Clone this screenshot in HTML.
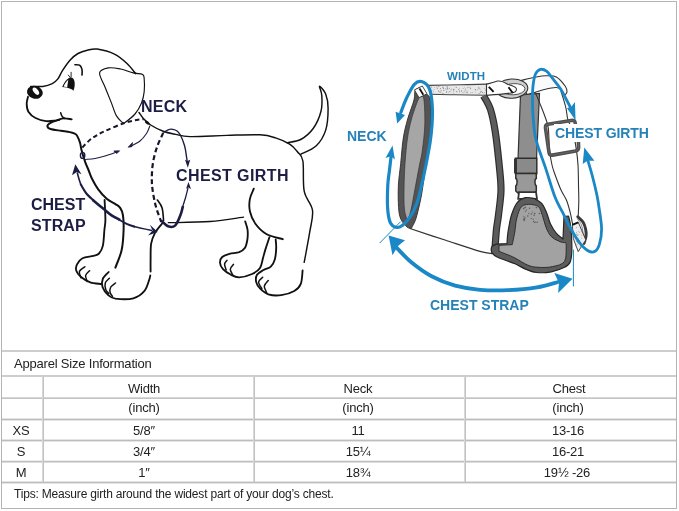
<!DOCTYPE html><html><head><meta charset="utf-8"><style>
html,body{margin:0;padding:0;background:#fff;}
body{width:679px;height:511px;position:relative;overflow:hidden;font-family:"Liberation Sans",sans-serif;}
.h{position:absolute;height:2px;background:#cfcfcf;}
.v{position:absolute;width:2px;background:#cfcfcf;}
.t{position:absolute;color:#222;white-space:pre;line-height:1;}
.c{position:absolute;color:#222;white-space:pre;line-height:1;transform:translateX(-50%);}
.lb{position:absolute;white-space:pre;line-height:1;font-weight:bold;}
svg{position:absolute;left:0;top:0;}
.t,.c,.lb{will-change:transform}
</style></head><body>
<div style="position:absolute;left:1px;top:1px;width:674px;height:506px;border:1px solid #b4b4b4;"></div>
<div class="h" style="left:2px;width:674px;top:350px;height:2px;background:#cdcdcd"></div>
<div class="h" style="left:2px;width:674px;top:375px;height:2px;background:#cdcdcd"></div>
<div class="h" style="left:2px;width:674px;top:397px;height:2px;background:linear-gradient(#d6d6d6 50%,#c4c4c4 50%)"></div>
<div class="h" style="left:2px;width:674px;top:418px;height:3px;background:linear-gradient(#e4e4e4 33.3%,#bdbdbd 33.3% 66.6%,#e4e4e4 66.6%)"></div>
<div class="h" style="left:2px;width:674px;top:439px;height:3px;background:linear-gradient(#e4e4e4 33.3%,#bdbdbd 33.3% 66.6%,#e4e4e4 66.6%)"></div>
<div class="h" style="left:2px;width:674px;top:481px;height:3px;background:linear-gradient(#e4e4e4 33.3%,#bdbdbd 33.3% 66.6%,#e4e4e4 66.6%)"></div>
<div class="h" style="left:2px;width:674px;top:460px;height:3px;background:linear-gradient(#ececec 33.3%,#bfbfbf 33.3% 66.6%,#dddddd 66.6%)"></div>
<div class="v" style="left:42px;top:377px;height:105px;background:linear-gradient(90deg,#d8d8d8 50%,#c2c2c2 50%)"></div>
<div class="v" style="left:253px;top:377px;height:105px;background:linear-gradient(90deg,#d8d8d8 50%,#c2c2c2 50%)"></div>
<div class="v" style="left:464px;top:377px;height:105px;background:linear-gradient(90deg,#d8d8d8 50%,#c2c2c2 50%)"></div>
<div class="t" style="left:14px;top:356.8px;font-size:13px;letter-spacing:-0.2px">Apparel Size Information</div>
<div class="c" style="left:143.5px;top:382.2px;font-size:13px;letter-spacing:-0.2px">Width</div>
<div class="c" style="left:358px;top:382.2px;font-size:13px;letter-spacing:-0.2px">Neck</div>
<div class="c" style="left:569px;top:382.2px;font-size:13px;letter-spacing:-0.2px">Chest</div>
<div class="c" style="left:144px;top:401.0px;font-size:13px;letter-spacing:-0.2px">(inch)</div>
<div class="c" style="left:358px;top:401.0px;font-size:13px;letter-spacing:-0.2px">(inch)</div>
<div class="c" style="left:567.8px;top:401.0px;font-size:13px;letter-spacing:-0.2px">(inch)</div>
<div class="c" style="left:21px;top:423.8px;font-size:13px;letter-spacing:-0.2px">XS</div>
<div class="c" style="left:144px;top:423.8px;font-size:13px;letter-spacing:-0.2px">5/8″</div>
<div class="c" style="left:357.8px;top:423.8px;font-size:13px;letter-spacing:-0.2px">11</div>
<div class="c" style="left:567.8px;top:423.8px;font-size:13px;letter-spacing:-0.2px">13-16</div>
<div class="c" style="left:21px;top:444.5px;font-size:13px;letter-spacing:-0.2px">S</div>
<div class="c" style="left:144px;top:444.5px;font-size:13px;letter-spacing:-0.2px">3/4″</div>
<div class="c" style="left:357.8px;top:444.5px;font-size:13px;letter-spacing:-0.2px">15¼</div>
<div class="c" style="left:567.8px;top:444.5px;font-size:13px;letter-spacing:-0.2px">16-21</div>
<div class="c" style="left:21px;top:466.0px;font-size:13px;letter-spacing:-0.2px">M</div>
<div class="c" style="left:144px;top:466.0px;font-size:13px;letter-spacing:-0.2px">1″</div>
<div class="c" style="left:357.8px;top:466.0px;font-size:13px;letter-spacing:-0.2px">18¾</div>
<div class="c" style="left:566.5px;top:466.0px;font-size:13px;letter-spacing:-0.2px">19½ -26</div>
<div class="t" style="left:13.8px;top:488.4px;font-size:12px;letter-spacing:-0.19px">Tips: Measure girth around the widest part of your dog’s chest.</div>
<svg width="679" height="511" viewBox="0 0 679 511">
<path d="M30.6,86.4 C32.6,86.4 39.3,86.9 42.9,86.4 C46.5,85.9 49.8,84.8 52.3,83.6 C54.8,82.3 56.2,81.1 57.9,78.9 C59.6,76.7 60.5,73.6 62.6,70.4 C64.7,67.2 67.6,62.8 70.2,60.0 C72.8,57.2 75.2,55.1 78.0,53.5 C80.8,51.9 84.1,50.9 87.3,50.2 C90.5,49.5 92.7,48.5 97.2,49.1 C101.7,49.8 109.4,51.7 114.4,54.1 C119.4,56.5 123.5,60.2 127.0,63.5 C130.5,66.8 134.2,71.9 135.6,73.6" fill="none" stroke="#111" stroke-width="1.5" stroke-linecap="round" stroke-linejoin="round" />
<ellipse cx="34.9" cy="92.3" rx="8" ry="6.4" transform="rotate(15 34.9 92.3)" fill="#111"/>
<ellipse cx="35.9" cy="91.2" rx="4.3" ry="2.3" transform="rotate(52 35.9 91.2)" fill="#fff"/>
<path d="M28.0,96.8 C27.8,98.0 26.6,101.3 26.7,103.8 C26.8,106.3 26.9,109.4 28.4,111.8 C29.9,114.2 32.5,116.5 35.5,118.0 C38.5,119.5 42.9,120.7 46.1,121.1 C49.3,121.5 52.0,121.0 54.9,120.6 C57.8,120.1 61.0,118.6 63.8,118.4 C66.6,118.2 70.4,119.2 71.7,119.3" fill="none" stroke="#111" stroke-width="1.85" stroke-linecap="round" stroke-linejoin="round" />
<path d="M60.7,112.7 C60.9,113.3 61.4,115.2 62.0,116.2 C62.6,117.2 64.2,118.0 64.6,118.4" fill="none" stroke="#111" stroke-width="1.5" stroke-linecap="round" stroke-linejoin="round" />
<path d="M59.3,119.7 C57.8,120.2 52.5,121.8 50.5,122.8 C48.5,123.8 47.4,124.9 47.4,125.9 C47.4,126.9 48.2,128.2 50.5,129.0 C52.8,129.8 57.9,130.3 61.1,130.8 C64.3,131.3 67.4,131.5 69.9,132.1 C72.4,132.7 74.3,132.7 76.0,134.4 C77.7,136.1 79.0,139.7 79.9,142.3 C80.8,144.9 80.6,146.6 81.5,150.0 C82.4,153.4 84.2,159.3 85.4,162.6 C86.6,165.9 87.4,167.3 88.5,170.0 C89.6,172.7 90.4,175.6 92.0,178.8 C93.6,182.0 95.7,186.0 98.2,189.4 C100.7,192.8 104.1,196.5 107.0,199.0 C109.9,201.5 113.6,202.8 115.8,204.3 C118.0,205.8 119.0,206.1 120.2,207.9 C121.4,209.7 122.3,211.3 122.9,215.0 C123.5,218.7 123.8,224.1 123.6,230.0 C123.4,235.9 123.0,244.0 121.6,250.3 C120.2,256.6 116.4,264.7 115.4,267.6" fill="none" stroke="#111" stroke-width="2.0" stroke-linecap="round" stroke-linejoin="round" />
<path d="M62.2,86.9 C64,83 66,79.5 69,78 C71.5,76.8 74,78 74.6,82 C75,85 74.5,88 73.5,90.8 C72.5,89.5 70,88.5 66.5,87.6 Z" fill="#111"/>
<path d="M63.6,86.4 C65,83.5 66.5,81 68.3,79.8 C67.8,82.5 67.5,85 67.2,87.2 Z" fill="#fff"/>
<path d="M68.3,75.1 L70.2,77.4" fill="none" stroke="#111" stroke-width="0.9" stroke-linecap="round" stroke-linejoin="round" />
<path d="M71.1,72.3 L71.1,77.0" fill="none" stroke="#111" stroke-width="0.9" stroke-linecap="round" stroke-linejoin="round" />
<path d="M74.9,64.7 C75.7,64.8 78.4,64.4 79.6,65.2 C80.8,66.0 81.6,67.8 82.0,69.4 C82.4,71.1 82.0,74.1 82.0,75.1" fill="none" stroke="#111" stroke-width="1.6" stroke-linecap="round" stroke-linejoin="round" />
<path d="M122.5,122.7 C121.5,121.5 118.2,118.9 116.3,115.6 C114.4,112.2 113.2,107.4 111.3,102.6 C109.4,97.8 107.0,92.0 105.0,87.0 C103.0,82.0 99.1,76.1 99.6,72.9 C100.1,69.7 104.7,68.6 108.2,67.9 C111.7,67.2 116.5,68.2 120.7,69.0 C124.9,69.8 129.5,72.0 133.2,72.9 C136.8,73.8 140.8,73.4 142.6,74.4 C144.4,75.4 143.9,76.2 144.2,79.1 C144.5,82.0 144.6,87.6 144.2,91.6 C143.8,95.6 143.0,99.3 141.5,103.0 C140.0,106.7 137.8,110.8 135.0,114.0 C132.2,117.2 127.1,121.0 125.0,122.5 C122.9,124.0 122.9,122.7 122.5,122.7" fill="none" stroke="#111" stroke-width="1.15" stroke-linecap="round" stroke-linejoin="round" />
<path d="M139.0,112.5 C139.8,113.5 141.7,116.7 143.6,118.8 C145.5,120.9 147.4,122.9 150.7,125.0 C154.0,127.1 159.0,129.7 163.2,131.3 C167.4,132.9 171.2,133.5 175.7,134.4 C180.2,135.3 181.4,136.4 190.0,136.6 C198.6,136.8 215.3,135.7 227.0,135.4 C238.7,135.1 251.9,134.4 260.0,134.8 C268.1,135.2 270.7,136.3 275.6,137.9 C280.6,139.5 286.0,141.8 289.7,144.2 C293.4,146.5 295.4,149.2 297.6,152.0 C299.8,154.8 301.8,154.5 302.9,161.0 C304.0,167.5 302.6,182.9 304.2,191.1 C305.8,199.3 311.6,203.5 312.5,210.3 C313.4,217.2 311.1,223.5 309.7,232.2 C308.3,240.9 305.1,257.3 304.2,262.3" fill="none" stroke="#111" stroke-width="1.45" stroke-linecap="round" stroke-linejoin="round" />
<path d="M287.4,142.6 C289.6,142.1 296.4,141.8 300.7,139.5 C305.0,137.2 309.8,133.2 313.2,128.5 C316.6,123.8 319.6,116.8 321.0,111.3 C322.4,105.8 322.1,99.8 321.8,95.6 C321.6,91.4 318.9,86.5 319.5,86.3 C320.1,86.0 324.3,90.4 325.7,94.1 C327.1,97.8 328.1,102.2 328.1,108.2 C328.1,114.2 327.7,123.8 325.7,130.1 C323.7,136.3 320.5,141.7 316.3,145.7 C312.1,149.7 303.3,152.9 300.7,154.3" fill="none" stroke="#111" stroke-width="1.45" stroke-linecap="round" stroke-linejoin="round" />
<path d="M302.6,270.5 C302.3,272.7 302.2,280.4 300.8,283.8 C299.4,287.2 297.6,289.1 294.3,291.0 C291.1,292.9 285.6,294.6 281.3,295.1 C277.0,295.7 271.8,295.4 268.3,294.3 C264.8,293.2 262.2,290.6 260.2,288.6 C258.2,286.6 256.7,284.4 256.2,282.1 C255.7,279.8 255.8,276.8 257.0,274.8 C258.2,272.8 261.2,271.4 263.5,270.0 C265.8,268.6 268.9,268.5 270.8,266.7 C272.7,264.9 273.9,262.5 274.8,259.4 C275.7,256.3 276.1,251.3 276.2,248.0 C276.3,244.7 275.8,240.9 275.7,239.5" fill="none" stroke="#111" stroke-width="1.85" stroke-linecap="round" stroke-linejoin="round" />
<path d="M262.7,277.3 C262.0,278.1 258.7,280.2 258.6,282.1 C258.5,284.0 261.3,287.5 261.9,288.6" fill="none" stroke="#111" stroke-width="1.5" stroke-linecap="round" stroke-linejoin="round" />
<path d="M268.3,280.5 C267.6,281.4 264.6,284.2 264.3,286.2 C264.0,288.2 266.3,291.6 266.7,292.7" fill="none" stroke="#111" stroke-width="1.5" stroke-linecap="round" stroke-linejoin="round" />
<path d="M253.8,188.6 C253.2,190.3 250.6,195.0 249.9,198.8 C249.2,202.6 249.0,207.1 249.9,211.3 C250.8,215.5 252.7,220.0 255.4,223.8 C258.1,227.6 261.7,231.4 266.3,234.0 C270.9,236.6 280.1,238.3 282.8,239.2" fill="none" stroke="#111" stroke-width="1.85" stroke-linecap="round" stroke-linejoin="round" />
<path d="M168.3,222.7 C175.2,222.5 197.4,222.4 210.0,221.5 C222.6,220.6 238.0,217.9 243.6,217.2" fill="none" stroke="#111" stroke-width="1.3" stroke-linecap="round" stroke-linejoin="round" />
<path d="M245.2,221.5 C245.6,222.9 247.2,226.9 247.6,230.0 C247.9,233.1 247.8,237.0 247.3,240.0 C246.8,243.0 246.2,246.1 244.8,248.1 C243.5,250.1 241.8,251.2 239.2,252.2 C236.6,253.1 232.2,253.0 229.4,253.8 C226.6,254.6 223.8,255.5 222.2,257.0 C220.6,258.5 219.9,260.7 220.0,262.7 C220.1,264.7 221.2,267.2 223.0,269.2 C224.8,271.2 228.3,273.4 231.0,274.8 C233.7,276.2 235.7,277.4 239.2,277.3 C242.7,277.2 248.6,275.6 252.1,274.0 C255.6,272.4 258.2,270.7 260.0,268.0 C261.8,265.3 262.1,261.2 263.0,258.0 C263.9,254.8 264.5,252.4 265.6,248.9 C266.7,245.4 268.9,239.1 269.5,237.1" fill="none" stroke="#111" stroke-width="1.85" stroke-linecap="round" stroke-linejoin="round" />
<path d="M227.0,260.3 C226.6,261.0 224.7,262.7 224.6,264.3 C224.5,265.9 225.9,269.1 226.2,270.0" fill="none" stroke="#111" stroke-width="1.5" stroke-linecap="round" stroke-linejoin="round" />
<path d="M233.5,264.3 C233.0,265.1 230.4,267.4 230.3,269.2 C230.2,270.9 232.3,273.9 232.7,274.8" fill="none" stroke="#111" stroke-width="1.5" stroke-linecap="round" stroke-linejoin="round" />
<path d="M104.6,199.9 C104.7,203.2 105.4,214.5 105.4,219.5 C105.4,224.5 104.8,225.7 104.4,230.0 C104.0,234.3 103.8,241.7 102.9,245.6 C102.0,249.5 100.6,251.8 99.0,253.5 C97.4,255.2 96.2,255.0 93.5,255.8 C90.8,256.6 85.2,256.8 82.5,258.2 C79.8,259.6 78.0,262.3 77.0,264.4 C76.0,266.5 75.6,268.6 76.3,270.7 C77.0,272.8 78.7,275.1 81.0,277.0 C83.3,278.9 86.9,281.2 90.3,282.4 C93.7,283.6 99.5,283.7 101.3,284.0" fill="none" stroke="#111" stroke-width="1.85" stroke-linecap="round" stroke-linejoin="round" />
<path d="M84.9,266.8 C84.0,267.6 80.1,269.7 79.4,271.5 C78.8,273.3 80.7,276.7 81.0,277.7" fill="none" stroke="#111" stroke-width="1.5" stroke-linecap="round" stroke-linejoin="round" />
<path d="M89.6,270.7 C88.9,271.5 86.0,273.6 85.6,275.4 C85.2,277.2 86.9,280.6 87.2,281.6" fill="none" stroke="#111" stroke-width="1.5" stroke-linecap="round" stroke-linejoin="round" />
<path d="M108.7,272.0 C107.7,273.1 103.8,276.3 102.8,278.8 C101.8,281.3 101.6,284.3 102.5,287.0 C103.4,289.7 106.0,293.1 108.2,295.0 C110.4,296.9 111.3,298.1 115.5,298.7 C119.7,299.2 128.6,299.6 133.4,298.3 C138.2,297.1 141.7,294.2 144.3,291.2 C146.9,288.2 148.1,282.8 149.1,280.2 C150.1,277.6 150.1,276.2 150.3,275.4" fill="none" stroke="#111" stroke-width="1.85" stroke-linecap="round" stroke-linejoin="round" />
<path d="M109.4,278.2 C108.7,279.0 105.9,281.1 105.3,283.0 C104.7,284.9 105.2,288.1 105.8,289.8 C106.4,291.6 108.3,292.9 108.8,293.5" fill="none" stroke="#111" stroke-width="1.5" stroke-linecap="round" stroke-linejoin="round" />
<path d="M115.5,283.0 C114.7,283.7 111.7,285.4 110.8,287.0 C109.9,288.6 109.8,290.9 110.1,292.5 C110.4,294.1 112.1,295.7 112.5,296.3" fill="none" stroke="#111" stroke-width="1.5" stroke-linecap="round" stroke-linejoin="round" />
<path d="M162.1,223.5 C160.9,225.1 156.8,229.5 155.0,232.9 C153.2,236.3 151.8,239.4 151.1,243.9 C150.4,248.4 150.7,255.4 150.6,260.0 C150.5,264.6 150.6,269.6 150.6,271.5" fill="none" stroke="#111" stroke-width="1.85" stroke-linecap="round" stroke-linejoin="round" />
<path d="M157.4,200.0 C158.2,201.3 161.1,204.5 162.1,207.9 C163.1,211.3 163.3,218.3 163.6,220.4" fill="none" stroke="#111" stroke-width="1.6" stroke-linecap="round" stroke-linejoin="round" />
<path d="M82.3,147.5 C83.9,145.9 88.3,140.9 92.1,138.2 C95.9,135.4 99.9,133.5 105.2,131.0 C110.5,128.5 118.6,125.0 123.8,123.2 C129.0,121.4 133.3,120.7 136.6,120.0 C139.9,119.3 142.5,119.4 143.7,119.3" fill="none" stroke="#16162c" stroke-width="2.0" stroke-linecap="butt" stroke-linejoin="round" stroke-dasharray="4.5 3"/>
<ellipse cx="147.2" cy="122.6" rx="2.8" ry="1.4" transform="rotate(38 147.2 122.6)" fill="#111"/>
<ellipse cx="82.6" cy="155.4" rx="2.2" ry="3" fill="none" stroke="#1c1d45" stroke-width="1.4"/>
<path d="M149.9,125.8 C149.3,127.1 148.2,131.0 146.5,133.5 C144.8,136.0 142.8,138.8 140.0,141.0 C137.2,143.2 131.7,145.6 130.0,146.5" fill="none" stroke="#1c1d45" stroke-width="1.1" stroke-linecap="butt" stroke-linejoin="round" />
<path d="M128.2,147.2 L132.5,142.6 L131.8,146.7 Z" fill="#1c1d45" stroke="#1c1d45" stroke-width="0.8"/>
<path d="M84.6,159.5 C86.3,159.3 91.6,159.1 95.0,158.5 C98.4,157.9 101.3,157.1 105.0,156.0 C108.7,154.9 115.0,152.5 117.0,151.8" fill="none" stroke="#1c1d45" stroke-width="1.1" stroke-linecap="butt" stroke-linejoin="round" />
<path d="M119.6,150.8 L113.8,151 L116.8,153.6 Z" fill="#1c1d45" stroke="#1c1d45" stroke-width="0.8"/>
<path d="M163.2,132.9 C162.2,135.2 158.7,142.1 157.0,147.0 C155.3,151.9 153.9,157.4 153.0,162.6 C152.1,167.8 151.9,173.5 151.8,178.2 C151.8,182.9 152.0,185.9 152.7,190.6 C153.4,195.3 154.4,201.1 155.8,206.3 C157.2,211.5 160.4,219.4 161.3,222.0" fill="none" stroke="#16162c" stroke-width="2.2" stroke-linecap="butt" stroke-linejoin="round" stroke-dasharray="5 3"/>
<path d="M163.4,132.6 C164.6,132.0 167.9,129.1 170.5,129.1 C173.1,129.1 176.4,129.9 178.7,132.6 C181.0,135.3 183.2,141.3 184.5,145.5 C185.8,149.7 186.2,155.2 186.7,158.0 C187.1,160.8 187.1,161.3 187.2,162.0" fill="none" stroke="#1c1d45" stroke-width="1.4" stroke-linecap="butt" stroke-linejoin="round" />
<path d="M187.8,167.8 L185,159.8 L187.5,161 L190.2,159.8 Z" fill="#1c1d45"/>
<path d="M161.1,220.4 C162.3,221.4 165.8,225.4 168.1,226.3 C170.4,227.2 173.0,227.5 175.1,225.6 C177.2,223.7 179.2,218.3 180.5,215.0 C181.8,211.7 182.6,207.5 183.0,206.0" fill="none" stroke="#1c1d45" stroke-width="2.6" stroke-linecap="butt" stroke-linejoin="round" />
<path d="M182.0,209.0 C182.6,207.0 184.7,200.5 185.7,197.0 C186.7,193.5 187.6,189.5 188.0,188.0" fill="none" stroke="#1c1d45" stroke-width="1.3" stroke-linecap="butt" stroke-linejoin="round" />
<path d="M188.5,181.9 L186,188.8 L188.3,187.6 L191,189 Z" fill="#1c1d45"/>
<path d="M77.2,172.5 C77.5,173.6 78.4,176.9 79.0,179.0 C79.6,181.1 80.7,184.0 81.0,185.0" fill="none" stroke="#1c1d45" stroke-width="1.6" stroke-linecap="butt" stroke-linejoin="round" />
<path d="M80.5,184.0 C81.4,185.5 83.8,190.2 86.0,193.0 C88.2,195.8 92.5,199.5 93.8,200.8" fill="none" stroke="#1c1d45" stroke-width="2.1" stroke-linecap="butt" stroke-linejoin="round" />
<path d="M92.5,199.8 C94.5,201.4 101.2,207.0 104.4,209.6 C107.6,212.2 109.0,213.6 111.6,215.3 C114.2,217.0 118.6,219.2 120.0,220.0" fill="none" stroke="#1c1d45" stroke-width="2.6" stroke-linecap="butt" stroke-linejoin="round" />
<path d="M118.0,219.0 C119.5,219.9 124.5,222.9 127.3,224.2 C130.1,225.5 133.7,226.4 135.0,226.8" fill="none" stroke="#1c1d45" stroke-width="1.9" stroke-linecap="butt" stroke-linejoin="round" />
<path d="M133.0,226.3 C134.2,226.6 136.8,227.3 140.0,228.0 C143.2,228.7 150.0,230.1 152.0,230.5" fill="none" stroke="#1c1d45" stroke-width="1.4" stroke-linecap="butt" stroke-linejoin="round" />
<path d="M157.8,232 L149.9,224.8 L152.6,230.5 L148,235.6 Z" fill="#1c1d45"/>
<path d="M75.3,164.2 L72,175.2 L76.8,172 L81.5,174.2 Z" fill="#1c1d45"/>
<path d="M410.0,228.5 C415.8,230.4 433.3,236.2 445.0,240.0 C456.7,243.8 472.2,249.0 480.0,251.3 C487.8,253.6 490.0,253.2 492.0,253.6" fill="none" stroke="#333" stroke-width="1.3" stroke-linecap="round" stroke-linejoin="round" />
<path d="M420.0,87.5 C419.2,88.0 416.2,88.4 415.2,90.5 C414.2,92.6 415.2,95.2 414.0,100.0 C412.8,104.8 409.5,112.7 407.7,119.0 C405.9,125.3 404.5,130.6 403.3,138.0 C402.1,145.4 401.5,155.7 400.7,163.5 C399.9,171.3 398.8,177.7 398.4,185.0 C398.0,192.3 398.2,201.9 398.6,207.6 C399.0,213.3 399.4,215.8 400.8,219.0 C402.2,222.2 405.2,225.4 407.0,227.0 C408.8,228.6 410.7,228.1 411.4,228.3 C412.1,226.8 414.4,223.2 415.8,219.0 C417.2,214.8 418.7,208.0 419.8,203.2 C420.9,198.4 421.3,196.4 422.3,190.0 C423.3,183.6 424.9,171.5 426.0,165.0 C427.1,158.5 428.0,157.5 428.8,150.8 C429.6,144.1 430.7,133.5 431.0,125.0 C431.3,116.5 431.3,105.3 430.4,100.0 C429.5,94.7 427.1,95.1 425.4,93.0 C423.7,90.9 420.9,88.4 420.0,87.5Z" fill="#545454" stroke="#2e2e2e" stroke-width="0.9" stroke-linejoin="round" />
<path d="M421.0,96.0 C420.5,96.7 419.6,96.2 418.0,100.0 C416.4,103.8 413.2,112.7 411.5,119.0 C409.8,125.3 408.6,130.6 407.5,138.0 C406.4,145.4 405.6,154.8 405.0,163.5 C404.4,172.2 404.1,182.2 404.0,190.0 C403.9,197.8 403.9,204.8 404.5,210.0 C405.1,215.2 407.0,219.2 407.5,221.0 C408.1,219.2 409.8,215.2 411.0,210.0 C412.2,204.8 413.4,197.5 414.8,190.0 C416.2,182.5 418.2,171.5 419.5,165.0 C420.8,158.5 421.4,157.5 422.3,150.8 C423.2,144.1 424.5,133.5 424.8,125.0 C425.1,116.5 424.6,104.8 424.0,100.0 C423.4,95.2 421.5,96.7 421.0,96.0Z" fill="#a6a6a6" stroke="#333" stroke-width="0.7" stroke-linejoin="round" />
<path d="M426,85.5 L488,84 L488,95.3 L429,94.3 Z" fill="#e8e8e8" stroke="none"/>
<circle cx="443.4" cy="90.3" r="0.41" fill="#8a8a8a"/><circle cx="464.1" cy="90.9" r="0.32" fill="#8a8a8a"/><circle cx="430.7" cy="92.4" r="0.38" fill="#8a8a8a"/><circle cx="443.2" cy="93.5" r="0.44" fill="#8a8a8a"/><circle cx="477.3" cy="89.8" r="0.49" fill="#8a8a8a"/><circle cx="438.5" cy="90.9" r="0.56" fill="#8a8a8a"/><circle cx="459.6" cy="91.7" r="0.50" fill="#8a8a8a"/><circle cx="433.6" cy="91.8" r="0.48" fill="#8a8a8a"/><circle cx="447.0" cy="86.7" r="0.56" fill="#8a8a8a"/><circle cx="456.7" cy="91.5" r="0.56" fill="#8a8a8a"/><circle cx="470.3" cy="92.9" r="0.42" fill="#8a8a8a"/><circle cx="475.3" cy="89.6" r="0.58" fill="#8a8a8a"/><circle cx="479.7" cy="87.2" r="0.34" fill="#8a8a8a"/><circle cx="442.3" cy="93.3" r="0.43" fill="#8a8a8a"/><circle cx="465.4" cy="88.6" r="0.45" fill="#8a8a8a"/><circle cx="451.8" cy="89.0" r="0.48" fill="#8a8a8a"/><circle cx="463.0" cy="92.8" r="0.50" fill="#8a8a8a"/><circle cx="482.5" cy="92.5" r="0.60" fill="#8a8a8a"/><circle cx="467.9" cy="87.6" r="0.56" fill="#8a8a8a"/><circle cx="484.5" cy="92.8" r="0.47" fill="#8a8a8a"/><circle cx="470.3" cy="88.0" r="0.55" fill="#8a8a8a"/><circle cx="462.4" cy="88.5" r="0.32" fill="#8a8a8a"/><circle cx="478.2" cy="93.4" r="0.33" fill="#8a8a8a"/><circle cx="475.2" cy="89.4" r="0.35" fill="#8a8a8a"/><circle cx="446.6" cy="91.9" r="0.56" fill="#8a8a8a"/><circle cx="432.5" cy="90.8" r="0.31" fill="#8a8a8a"/><circle cx="470.6" cy="88.8" r="0.56" fill="#8a8a8a"/><circle cx="485.4" cy="90.0" r="0.60" fill="#8a8a8a"/><circle cx="447.5" cy="87.0" r="0.48" fill="#8a8a8a"/><circle cx="431.8" cy="87.9" r="0.42" fill="#8a8a8a"/><circle cx="464.5" cy="87.6" r="0.31" fill="#8a8a8a"/><circle cx="479.0" cy="88.7" r="0.59" fill="#8a8a8a"/><circle cx="480.7" cy="89.1" r="0.44" fill="#8a8a8a"/><circle cx="459.4" cy="91.0" r="0.48" fill="#8a8a8a"/><circle cx="461.6" cy="90.8" r="0.58" fill="#8a8a8a"/><circle cx="458.6" cy="89.5" r="0.52" fill="#8a8a8a"/><circle cx="443.4" cy="88.6" r="0.59" fill="#8a8a8a"/><circle cx="459.4" cy="90.3" r="0.30" fill="#8a8a8a"/><circle cx="453.5" cy="90.6" r="0.31" fill="#8a8a8a"/><circle cx="464.8" cy="90.9" r="0.32" fill="#8a8a8a"/><circle cx="465.4" cy="89.8" r="0.50" fill="#8a8a8a"/><circle cx="449.9" cy="91.4" r="0.52" fill="#8a8a8a"/><circle cx="431.3" cy="86.9" r="0.50" fill="#8a8a8a"/><circle cx="484.4" cy="88.3" r="0.44" fill="#8a8a8a"/><circle cx="463.5" cy="88.7" r="0.41" fill="#8a8a8a"/><circle cx="447.7" cy="89.1" r="0.48" fill="#8a8a8a"/><circle cx="447.0" cy="89.1" r="0.53" fill="#8a8a8a"/><circle cx="431.5" cy="90.5" r="0.52" fill="#8a8a8a"/><circle cx="447.5" cy="88.1" r="0.54" fill="#8a8a8a"/><circle cx="443.5" cy="87.8" r="0.43" fill="#8a8a8a"/><circle cx="469.4" cy="87.2" r="0.40" fill="#8a8a8a"/><circle cx="448.9" cy="92.3" r="0.43" fill="#8a8a8a"/><circle cx="478.3" cy="87.7" r="0.40" fill="#8a8a8a"/><circle cx="466.7" cy="92.7" r="0.44" fill="#8a8a8a"/><circle cx="442.7" cy="87.3" r="0.46" fill="#8a8a8a"/><circle cx="440.8" cy="92.1" r="0.55" fill="#8a8a8a"/><circle cx="440.4" cy="88.5" r="0.54" fill="#8a8a8a"/><circle cx="466.3" cy="92.1" r="0.40" fill="#8a8a8a"/><circle cx="437.3" cy="88.5" r="0.54" fill="#8a8a8a"/><circle cx="445.3" cy="88.9" r="0.43" fill="#8a8a8a"/><circle cx="453.7" cy="89.4" r="0.58" fill="#8a8a8a"/><circle cx="438.8" cy="86.5" r="0.58" fill="#8a8a8a"/><circle cx="479.7" cy="93.4" r="0.43" fill="#8a8a8a"/><circle cx="483.7" cy="93.0" r="0.37" fill="#8a8a8a"/><circle cx="472.1" cy="92.4" r="0.50" fill="#8a8a8a"/><circle cx="459.3" cy="88.5" r="0.40" fill="#8a8a8a"/><circle cx="442.9" cy="87.0" r="0.48" fill="#8a8a8a"/><circle cx="446.2" cy="92.2" r="0.31" fill="#8a8a8a"/><circle cx="481.1" cy="91.4" r="0.58" fill="#8a8a8a"/><circle cx="480.7" cy="92.8" r="0.47" fill="#8a8a8a"/><circle cx="430.7" cy="91.7" r="0.35" fill="#8a8a8a"/><circle cx="446.9" cy="91.1" r="0.46" fill="#8a8a8a"/><circle cx="453.4" cy="93.1" r="0.48" fill="#8a8a8a"/><circle cx="449.3" cy="88.3" r="0.56" fill="#8a8a8a"/><circle cx="457.0" cy="92.0" r="0.41" fill="#8a8a8a"/><circle cx="441.1" cy="90.2" r="0.55" fill="#8a8a8a"/><circle cx="439.7" cy="92.0" r="0.58" fill="#8a8a8a"/><circle cx="475.5" cy="92.3" r="0.30" fill="#8a8a8a"/><circle cx="465.5" cy="92.5" r="0.31" fill="#8a8a8a"/><circle cx="445.3" cy="88.4" r="0.46" fill="#8a8a8a"/><circle cx="453.9" cy="89.8" r="0.53" fill="#8a8a8a"/><circle cx="430.1" cy="86.9" r="0.34" fill="#8a8a8a"/><circle cx="437.0" cy="87.0" r="0.59" fill="#8a8a8a"/><circle cx="478.3" cy="87.1" r="0.45" fill="#8a8a8a"/><circle cx="447.8" cy="88.7" r="0.41" fill="#8a8a8a"/><circle cx="466.6" cy="90.6" r="0.41" fill="#8a8a8a"/><circle cx="440.8" cy="88.8" r="0.34" fill="#8a8a8a"/><circle cx="461.4" cy="91.5" r="0.41" fill="#8a8a8a"/><circle cx="434.5" cy="87.7" r="0.41" fill="#8a8a8a"/><circle cx="464.2" cy="92.0" r="0.41" fill="#8a8a8a"/><circle cx="475.3" cy="90.9" r="0.43" fill="#8a8a8a"/><circle cx="451.0" cy="90.0" r="0.51" fill="#8a8a8a"/><circle cx="453.8" cy="91.4" r="0.44" fill="#8a8a8a"/><circle cx="443.8" cy="90.3" r="0.51" fill="#8a8a8a"/><circle cx="434.0" cy="89.5" r="0.43" fill="#8a8a8a"/><circle cx="479.7" cy="93.1" r="0.41" fill="#8a8a8a"/><circle cx="480.7" cy="92.0" r="0.38" fill="#8a8a8a"/><circle cx="456.2" cy="87.4" r="0.54" fill="#8a8a8a"/><circle cx="467.4" cy="92.7" r="0.54" fill="#8a8a8a"/><circle cx="467.7" cy="91.6" r="0.47" fill="#8a8a8a"/>
<path d="M428.0,85.4 C433.3,85.3 450.2,85.0 460.0,84.8 C469.8,84.6 482.5,84.2 487.0,84.1" fill="none" stroke="#444" stroke-width="1.1" stroke-linecap="round" stroke-linejoin="round" />
<path d="M430.0,94.3 C434.2,94.4 445.5,94.6 455.0,94.8 C464.5,95.0 481.7,95.2 487.0,95.3" fill="none" stroke="#444" stroke-width="1.1" stroke-linecap="round" stroke-linejoin="round" />
<path d="M414.4,89.9 L422.3,86 L427,93.8 L419.1,97.7 Z" fill="#fff" stroke="#333" stroke-width="0.9"/>
<path d="M419.5,88.5 L423.3,94.8" stroke="#111" stroke-width="1.8"/>
<path d="M483.6,95.8 C484.8,98.1 488.6,103.5 490.5,109.5 C492.4,115.5 493.9,122.8 495.3,132.0 C496.8,141.2 498.2,155.3 499.2,165.0 C500.1,174.7 501.1,181.7 501.0,190.0 C500.9,198.3 499.2,208.5 498.5,215.0 C497.8,221.5 497.0,224.2 496.5,229.0 C496.0,233.8 495.6,240.0 495.3,244.0 C495.0,248.0 494.9,251.5 494.8,253.0" fill="none" stroke="#2e2e2e" stroke-width="7.2" stroke-linecap="butt"/>
<path d="M483.6,95.8 C484.8,98.1 488.6,103.5 490.5,109.5 C492.4,115.5 493.9,122.8 495.3,132.0 C496.8,141.2 498.2,155.3 499.2,165.0 C500.1,174.7 501.1,181.7 501.0,190.0 C500.9,198.3 499.2,208.5 498.5,215.0 C497.8,221.5 497.0,224.2 496.5,229.0 C496.0,233.8 495.6,240.0 495.3,244.0 C495.0,248.0 494.9,251.5 494.8,253.0" fill="none" stroke="#5c5c5c" stroke-width="4.8" stroke-linecap="butt"/>
<path d="M520.5,95 L539.5,93.5 L536.5,159 L518,159 Z" fill="#8e8e8e" stroke="#333" stroke-width="1.2"/>
<path d="M515.3,158.3 L536.8,158.3 L536.8,173.5 L515.3,173.5 Z" fill="#8a8a8a" stroke="#2e2e2e" stroke-width="1.5"/>
<path d="M515.5,159 L515.5,173 " stroke="#333" stroke-width="3"/>
<path d="M515.8,173.5 L536.3,173.5 L536.3,178.5 C534.5,179 534.5,185 536.3,186 L536.3,191 L533,194 L519,194 L515.8,191 L515.8,186 C517.5,185 517.5,179 515.8,178.5 Z" fill="#999" stroke="#2e2e2e" stroke-width="1.5"/>
<path d="M519,192.2 L536,192.2 L537,198.8 L518.2,198.8 Z" fill="#fff" stroke="#333" stroke-width="1.8"/>
<path d="M533.9,198.3 C532.5,198.2 528.4,197.0 525.6,197.7 C522.9,198.4 519.8,199.5 517.4,202.4 C515.0,205.3 513.1,210.1 511.5,215.0 C509.9,219.9 508.8,227.2 508.0,232.0 C507.2,236.8 507.2,241.6 507.0,243.5 L496.0,244.2 C495.3,244.6 492.8,245.4 492.0,246.5 C491.2,247.6 491.1,249.7 491.4,251.0 C491.6,252.3 492.4,253.4 493.5,254.5 C494.6,255.6 495.6,256.3 497.7,257.3 C499.8,258.3 503.1,259.4 506.0,260.5 C508.9,261.6 511.6,262.3 515.0,263.8 C518.4,265.3 522.6,267.9 526.2,269.4 C529.8,270.8 532.3,272.1 536.5,272.5 C540.7,272.9 546.6,272.7 551.3,271.8 C556.0,270.9 561.3,269.0 564.5,267.3 C567.7,265.6 569.2,264.9 570.4,261.5 C571.6,258.1 571.9,252.8 571.9,246.7 C571.9,240.6 571.1,230.1 570.5,225.0 C569.9,219.9 568.8,217.5 568.5,216.0 L564.0,216.5 L563.0,239.0 C561.9,238.0 558.3,235.7 556.2,233.2 C554.1,230.7 552.0,227.1 550.4,223.8 C548.8,220.5 548.2,216.5 546.8,213.2 C545.4,209.9 544.2,206.3 542.1,203.8 C540.0,201.3 535.3,199.2 533.9,198.3Z" fill="#5c5c5c" stroke="#262626" stroke-width="1.2" stroke-linejoin="round" />
<path d="M530.3,204.3 C528.9,204.6 524.0,204.0 521.8,206.3 C519.5,208.6 518.0,213.7 516.8,218.0 C515.6,222.3 515.5,227.6 514.8,232.0 C514.0,236.4 512.7,242.5 512.3,244.6 L499.0,245.3 L499.0,251.3 C500.3,251.8 504.3,253.4 507.0,254.5 C509.7,255.6 511.6,256.2 515.0,258.0 C518.5,259.8 523.9,263.6 527.7,265.1 C531.5,266.7 533.8,267.1 538.0,267.3 C542.2,267.6 548.3,267.6 552.7,266.6 C557.1,265.6 562.2,264.8 564.5,261.5 C566.8,258.2 566.0,249.9 566.2,246.7 C566.4,243.5 565.6,243.2 565.5,242.5 C564.8,242.4 563.3,242.9 561.0,242.0 C558.7,241.1 554.0,239.2 551.5,236.8 C549.0,234.4 547.5,230.8 546.0,227.3 C544.5,223.8 543.8,219.1 542.5,215.6 C541.2,212.1 540.5,208.5 538.5,206.6 C536.5,204.7 531.7,204.7 530.3,204.3Z" fill="#a2a2a2" stroke="#2e2e2e" stroke-width="1.0" stroke-linejoin="round" />
<circle cx="523.9" cy="216.4" r="0.55" fill="#5a5a5a"/><circle cx="524.6" cy="219.4" r="0.56" fill="#5a5a5a"/><circle cx="523.7" cy="208.6" r="0.81" fill="#5a5a5a"/><circle cx="525.2" cy="207.4" r="0.80" fill="#5a5a5a"/><circle cx="524.2" cy="220.5" r="0.75" fill="#5a5a5a"/><circle cx="537.1" cy="222.2" r="0.72" fill="#5a5a5a"/><circle cx="536.4" cy="207.6" r="0.78" fill="#5a5a5a"/><circle cx="531.2" cy="218.4" r="0.58" fill="#5a5a5a"/><circle cx="535.5" cy="222.0" r="0.57" fill="#5a5a5a"/><circle cx="527.8" cy="216.0" r="0.80" fill="#5a5a5a"/><circle cx="526.4" cy="209.9" r="0.62" fill="#5a5a5a"/><circle cx="533.1" cy="219.1" r="0.67" fill="#5a5a5a"/><circle cx="528.6" cy="213.3" r="0.66" fill="#5a5a5a"/><circle cx="529.5" cy="208.3" r="0.70" fill="#5a5a5a"/><circle cx="539.5" cy="213.6" r="0.77" fill="#5a5a5a"/><circle cx="524.9" cy="218.1" r="0.78" fill="#5a5a5a"/><circle cx="534.1" cy="215.3" r="0.70" fill="#5a5a5a"/><circle cx="533.6" cy="221.4" r="0.59" fill="#5a5a5a"/><circle cx="523.7" cy="219.0" r="0.82" fill="#5a5a5a"/><circle cx="531.3" cy="214.1" r="0.77" fill="#5a5a5a"/><circle cx="525.3" cy="211.3" r="0.61" fill="#5a5a5a"/><circle cx="532.5" cy="212.0" r="0.62" fill="#5a5a5a"/><circle cx="534.4" cy="222.3" r="0.64" fill="#5a5a5a"/><circle cx="534.7" cy="213.6" r="0.81" fill="#5a5a5a"/>
<path d="M520.5,80.6 C523.1,80.0 532.0,77.8 536.2,77.0 C540.4,76.2 542.5,75.8 545.9,75.8 C549.3,75.8 553.2,75.2 556.4,77.0 C559.6,78.8 563.5,83.8 565.3,86.3 C567.1,88.8 567.1,90.5 567.0,92.0 C566.9,93.5 564.9,94.9 564.5,95.5 C564.0,94.7 562.9,91.8 561.5,90.5 C560.1,89.2 559.3,87.7 556.4,87.5 C553.5,87.3 548.1,88.6 544.3,89.5 C540.5,90.4 536.7,92.0 533.8,92.8 C530.9,93.6 528.1,94.2 527.0,94.5Z" fill="#fbfbfb" stroke="#333" stroke-width="1.1" stroke-linejoin="round" />
<ellipse cx="511.8" cy="88.6" rx="16" ry="9.6" transform="rotate(-3 511.8 88.6)" fill="#cdcdcd" stroke="#333" stroke-width="1.1"/>
<ellipse cx="513.5" cy="89.2" rx="11.5" ry="5.6" transform="rotate(-3 513.5 89.2)" fill="#fff" stroke="#444" stroke-width="0.9"/>
<path d="M486.5,95.3 L486.5,84.1 C489,84 492,82.6 497.4,81 C502,80.5 505,82.5 508,84.5 C512,85.5 516,86.5 516.5,89 C516.5,91.5 514,92.8 511,93 C506,93.4 502,94.5 494.4,94.6 Z" fill="#fff" stroke="#333" stroke-width="1.1"/>
<path d="M488.8,86.8 L493.6,91.8 M508.5,87.2 L512.8,93" stroke="#111" stroke-width="1.9"/>
<path d="M535.5,93.0 C536.4,95.2 539.3,102.0 541.0,106.2 C542.7,110.4 544.3,114.4 545.5,118.0 C546.7,121.6 547.6,122.7 548.3,128.0 C549.0,133.3 548.9,143.8 549.5,150.0 C550.1,156.2 551.1,160.9 552.0,165.0 C552.9,169.1 553.5,170.3 555.0,174.5 C556.5,178.7 559.1,185.8 561.0,190.0 C562.9,194.2 564.9,196.4 566.4,200.0 C567.9,203.6 568.9,207.4 570.0,211.7 C571.1,216.0 572.5,223.6 573.0,226.0" fill="none" stroke="#333" stroke-width="1.1" stroke-linecap="round" stroke-linejoin="round" />
<path d="M561.0,91.3 C561.8,93.9 564.6,102.2 565.7,107.0 C566.9,111.8 566.8,116.1 567.9,119.9 C569.0,123.7 571.0,125.1 572.4,130.0 C573.8,134.9 575.4,143.3 576.3,149.1 C577.2,154.9 577.6,159.0 578.0,165.0 C578.4,171.0 578.4,179.2 578.5,185.0 C578.6,190.8 578.8,194.8 578.8,200.0 C578.8,205.2 578.3,213.7 578.2,216.4" fill="none" stroke="#333" stroke-width="1.1" stroke-linecap="round" stroke-linejoin="round" />
<path d="M575.5,125.5 C575.5,122 574.5,120.3 572.5,120.3 L548,124.3 C546,124.6 545.3,126 545.5,128 L549,152.5 C549.3,154.7 550.5,155.4 552.5,155.1 L575.5,151 C577.8,150.5 578.7,149 578.6,147 L578.4,141.5" fill="none" stroke="#4e4e4e" stroke-width="3.6" stroke-linecap="butt"/>
<path d="M575.5,125.5 C575.5,122 574.5,120.3 572.5,120.3 L548,124.3 C546,124.6 545.3,126 545.5,128 L549,152.5 C549.3,154.7 550.5,155.4 552.5,155.1 L575.5,151 C577.8,150.5 578.7,149 578.6,147 L578.4,141.5" fill="none" stroke="#6a6a6a" stroke-width="0.8" stroke-linecap="butt"/>
<path d="M577.8,216.8 C578.7,217.7 581.7,220.0 583.0,222.0 C584.3,224.0 585.1,226.7 585.6,229.0 C586.1,231.3 586.3,233.6 586.0,236.0 C585.7,238.4 584.3,242.2 584.0,243.4" fill="none" stroke="#3a3a3a" stroke-width="3.0" stroke-linecap="round" stroke-linejoin="round" />
<path d="M577.5,219.0 C578.2,220.0 580.6,222.7 581.5,225.0 C582.4,227.3 582.9,230.5 583.0,233.0 C583.1,235.5 582.2,238.8 582.0,240.0" fill="none" stroke="#888" stroke-width="1.0" stroke-linecap="round" stroke-linejoin="round" />
<path d="M572.3,224.8 L578.3,222.3 L585.8,239.9 L578.2,251.6 L573.3,238.5 Z" fill="#ececec" stroke="#333" stroke-width="0.9"/>
<path d="M572.3,224.8 L578.3,222.3" stroke="#111" stroke-width="2"/>
<circle cx="579.7" cy="232.3" r="0.45" fill="#777"/><circle cx="576.7" cy="227.5" r="0.45" fill="#777"/><circle cx="578.8" cy="234.7" r="0.45" fill="#777"/><circle cx="576.4" cy="234.2" r="0.45" fill="#777"/><circle cx="577.6" cy="242.5" r="0.45" fill="#777"/><circle cx="576.1" cy="246.8" r="0.45" fill="#777"/><circle cx="578.8" cy="239.0" r="0.45" fill="#777"/><circle cx="578.7" cy="243.7" r="0.45" fill="#777"/><circle cx="581.6" cy="238.1" r="0.45" fill="#777"/><circle cx="578.9" cy="241.4" r="0.45" fill="#777"/><circle cx="581.9" cy="235.0" r="0.45" fill="#777"/><circle cx="580.9" cy="246.2" r="0.45" fill="#777"/><circle cx="578.7" cy="231.6" r="0.45" fill="#777"/><circle cx="576.9" cy="241.4" r="0.45" fill="#777"/><circle cx="580.4" cy="246.2" r="0.45" fill="#777"/><circle cx="581.8" cy="231.8" r="0.45" fill="#777"/><circle cx="576.5" cy="232.2" r="0.45" fill="#777"/><circle cx="576.5" cy="241.1" r="0.45" fill="#777"/><circle cx="581.9" cy="245.0" r="0.45" fill="#777"/><circle cx="577.0" cy="244.3" r="0.45" fill="#777"/><circle cx="577.5" cy="235.5" r="0.45" fill="#777"/><circle cx="580.8" cy="228.7" r="0.45" fill="#777"/><circle cx="575.7" cy="243.7" r="0.45" fill="#777"/><circle cx="577.3" cy="234.1" r="0.45" fill="#777"/><circle cx="579.6" cy="240.5" r="0.45" fill="#777"/>
<path d="M400.8,112.5 C401.8,110.1 404.3,102.7 406.6,98.0 C408.9,93.3 411.8,87.0 414.4,84.3 C417.0,81.6 419.8,81.0 422.3,81.8 C424.8,82.6 427.9,85.1 429.5,89.0 C431.1,92.9 431.8,99.0 432.2,105.0 C432.6,111.0 432.4,118.7 432.0,125.0 C431.6,131.3 430.8,137.7 430.0,143.0 C429.2,148.3 428.4,152.0 427.5,157.0 C426.6,162.0 425.5,167.5 424.3,173.0 C423.1,178.5 421.7,185.0 420.5,190.0 C419.3,195.0 418.7,198.8 417.0,203.2 C415.3,207.6 412.9,212.7 410.5,216.4 C408.1,220.1 405.0,223.4 402.6,225.2 C400.2,227.0 398.4,227.8 396.4,227.4 C394.3,227.0 391.8,225.9 390.3,222.6 C388.8,219.3 388.0,213.9 387.6,207.6 C387.2,201.3 387.5,191.3 387.8,185.0 C388.1,178.7 389.0,174.7 389.5,170.0 C390.0,165.3 390.8,159.2 391.0,157.0" fill="none" stroke="#1a87c6" stroke-width="3.2" stroke-linecap="round" stroke-linejoin="round" stroke-linecap="butt"/>
<path d="M397.2,123.5 L395.6,111.7 L400.5,113.5 L405,114.9 Z" fill="#1a87c6"/>
<path d="M392.5,145.4 L385.5,157.9 L391,156.3 L394.9,159.5 Z" fill="#1a87c6"/>
<path d="M380.0,242.7 L400.3,222.0" fill="none" stroke="#1a87c6" stroke-width="1.0" stroke-linecap="round" stroke-linejoin="round" />
<path d="M395.6,246.6 C398.2,249.2 405.3,257.4 411.3,262.3 C417.3,267.2 424.3,272.4 431.6,276.3 C438.9,280.2 447.0,283.4 455.1,285.7 C463.2,287.9 471.1,289.1 480.0,289.8 C488.9,290.6 498.8,290.6 508.3,290.2 C517.8,289.8 528.7,288.8 537.0,287.4 C545.3,286.0 554.5,282.9 558.0,282.0" fill="none" stroke="#1a87c6" stroke-width="3.8" stroke-linecap="round" stroke-linejoin="round" stroke-linecap="butt"/>
<path d="M388.6,235.6 L405,240.3 L398,246 L392.5,255.2 Z" fill="#1a87c6"/>
<path d="M572.5,278.7 L554.3,273 L559,283 L558.1,293.1 Z" fill="#1a87c6"/>
<path d="M573.4,250.0 L573.4,286.0" fill="none" stroke="#1a87c6" stroke-width="1.0" stroke-linecap="round" stroke-linejoin="round" />
<path d="M570.0,106.5 C569.2,104.9 566.6,100.0 565.0,97.0 C563.4,94.0 562.6,91.8 560.5,88.7 C558.4,85.6 554.7,81.1 552.4,78.2 C550.1,75.3 548.5,72.7 546.5,71.2 C544.5,69.7 542.3,68.9 540.5,69.4 C538.7,69.9 536.8,71.2 535.5,74.0 C534.2,76.8 533.5,81.7 533.0,86.0 C532.5,90.3 532.5,95.2 532.5,100.0 C532.5,104.8 532.6,109.2 533.0,115.0 C533.4,120.8 534.0,129.2 535.0,135.0 C536.0,140.8 537.4,144.2 539.2,150.0 C541.1,155.8 543.5,161.8 546.1,169.6 C548.7,177.4 552.0,189.4 555.0,197.0 C558.0,204.6 561.4,209.9 564.1,215.3 C566.8,220.7 568.6,224.8 571.1,229.3 C573.6,233.8 576.5,238.8 579.3,242.3 C582.0,245.8 585.0,248.9 587.6,250.5 C590.2,252.1 592.7,252.6 594.6,251.6 C596.5,250.6 598.1,248.3 599.3,244.6 C600.5,240.9 601.6,235.2 601.6,229.3 C601.6,223.4 600.1,215.1 599.3,209.4 C598.5,203.7 598.1,200.7 596.9,195.0 C595.7,189.3 593.6,180.7 592.1,175.0 C590.6,169.3 588.7,163.3 588.0,161.0" fill="none" stroke="#1a87c6" stroke-width="2.8" stroke-linecap="round" stroke-linejoin="round" stroke-linecap="butt"/>
<path d="M575.6,120.5 L567,108.3 L571.5,106.5 L574.9,102 Z" fill="#1a87c6"/>
<path d="M584.3,147.4 L582.7,163.9 L587.4,160.7 L594.4,160.7 Z" fill="#1a87c6"/>
</svg>
<div class="lb" style="left:140.5px;top:99.3px;font-size:16px;color:#1c1d45;letter-spacing:0.2px;">NECK</div>
<div class="lb" style="left:176.3px;top:167.8px;font-size:16px;color:#1c1d45;letter-spacing:0.4px;">CHEST GIRTH</div>
<div class="lb" style="left:31.3px;top:197.3px;font-size:16px;color:#1c1d45;letter-spacing:0px;">CHEST</div>
<div class="lb" style="left:31.3px;top:217.5px;font-size:16px;color:#1c1d45;letter-spacing:0.1px;">STRAP</div>
<div class="lb" style="left:347px;top:128.5px;font-size:14px;color:#2582b9;letter-spacing:0px;">NECK</div>
<div class="lb" style="left:554.5px;top:125.6px;font-size:14px;color:#2582b9;letter-spacing:-0.1px;background:#fff;padding:2px 2px 2px 1px;margin:-2px 0 0 -1px;">CHEST GIRTH</div>
<div class="lb" style="left:429.5px;top:298.3px;font-size:14px;color:#2582b9;letter-spacing:0px;">CHEST STRAP</div>
<div class="lb" style="left:447px;top:70.9px;font-size:11.5px;color:#2582b9;letter-spacing:0.1px;">WIDTH</div>
</body></html>
